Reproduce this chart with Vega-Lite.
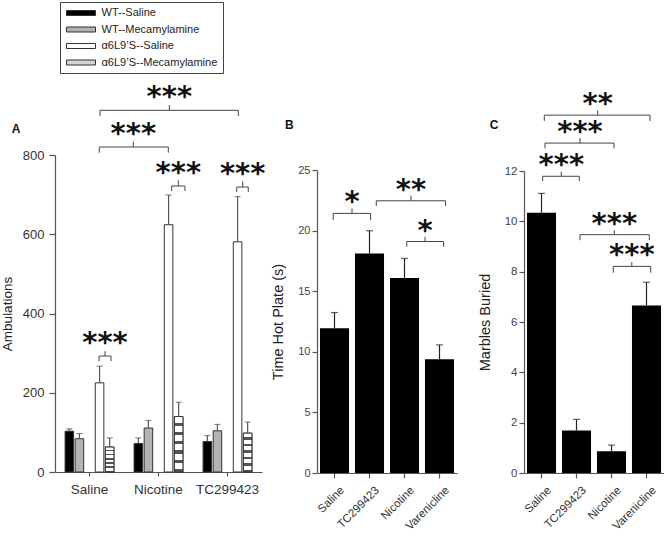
{
  "$schema": "https://vega.github.io/schema/vega-lite/v6.json",
  "padding": {"left": 0, "top": 1, "right": 0, "bottom": 0},
  "background": "white",
  "config": {
    "view": {"stroke": null},
    "font": "Liberation Sans",
    "axis": {"grid": false, "labelFont": "Liberation Sans", "titleFont": "Liberation Sans", "domainColor": "#555", "tickColor": "#555", "labelColor": "#333", "titleColor": "#222", "titleFontWeight": "normal", "domainWidth": 1.2, "tickWidth": 1.2}
  },
  "bounds": "flush",
  "spacing": 55,
  "resolve": {"scale": {"fill": "independent"}},
  "hconcat": [
    {
      "width": 207, "height": 317,
      "resolve": {"scale": {"x": "independent"}},
      "layer": [
        {
          "data": {"values": [
            {"treatment": "Saline", "group": "WT--Saline", "mean": 103, "upper": 109},
            {"treatment": "Saline", "group": "WT--Mecamylamine", "mean": 84, "upper": 97},
            {"treatment": "Saline", "group": "α6L9’S--Saline", "mean": 225, "upper": 267},
            {"treatment": "Saline", "group": "α6L9’S--Mecamylamine", "mean": 63, "upper": 86},
            {"treatment": "Nicotine", "group": "WT--Saline", "mean": 72, "upper": 86},
            {"treatment": "Nicotine", "group": "WT--Mecamylamine", "mean": 111, "upper": 130},
            {"treatment": "Nicotine", "group": "α6L9’S--Saline", "mean": 624, "upper": 699},
            {"treatment": "Nicotine", "group": "α6L9’S--Mecamylamine", "mean": 140, "upper": 176},
            {"treatment": "TC299423", "group": "WT--Saline", "mean": 77, "upper": 92},
            {"treatment": "TC299423", "group": "WT--Mecamylamine", "mean": 104, "upper": 120},
            {"treatment": "TC299423", "group": "α6L9’S--Saline", "mean": 581, "upper": 695},
            {"treatment": "TC299423", "group": "α6L9’S--Mecamylamine", "mean": 98, "upper": 126}
          ]},
          "encoding": {
            "x": {"field": "treatment", "type": "nominal", "sort": ["Saline", "Nicotine", "TC299423"], "scale": {"paddingInner": 0, "paddingOuter": 0}, "axis": {"title": null, "labelAngle": 0, "labelFontSize": 13.5, "tickSize": 4, "labelPadding": 6}},
            "xOffset": {"field": "group", "type": "nominal", "scale": {"domain": ["WT--Saline", "WT--Mecamylamine", "gap", "α6L9’S--Saline", "α6L9’S--Mecamylamine"], "paddingInner": 0.15, "paddingOuter": 1.68}},
            "y": {"field": "mean", "type": "quantitative", "title": "Ambulations", "scale": {"domain": [0, 800], "nice": false}, "axis": {"title": "Ambulations", "values": [0, 200, 400, 600, 800], "labelFontSize": 13, "titleFontSize": 13.5, "tickSize": 6, "labelPadding": 5, "titlePadding": 8}}
          },
          "layer": [
            {
              "mark": {"type": "bar", "stroke": "#333", "strokeWidth": 1},
              "encoding": {
                "fill": {"field": "group", "type": "nominal",
                  "scale": {"domain": ["WT--Saline", "WT--Mecamylamine", "α6L9’S--Saline", "α6L9’S--Mecamylamine"], "range": ["#000000", "#b3b3b3", "#ffffff", "#d4d4d4"]},
                  "legend": {"orient": "none", "legendX": 5, "legendY": -153, "title": null, "strokeColor": "#444", "fillColor": "#ffffff", "padding": 5.5,
                    "symbolType": "M-14.5,-2.5H14.5V2.5H-14.5Z", "symbolSize": 4, "symbolOffset": 10, "labelOffset": 15, "rowPadding": 4.5,
                    "labelFontSize": 11, "labelFont": "Liberation Sans", "labelColor": "#222", "symbolStrokeColor": "#333", "symbolStrokeWidth": 1,
                    "labelExpr": "datum.label + '     '",
                    "encode": {"symbols": {"update": {"stroke": {"value": "#333333"}, "strokeWidth": {"value": 1}}}}
                  }
                }
              }
            },
            {
              "transform": [{"filter": "datum.group === 'α6L9’S--Mecamylamine'"}],
              "mark": {"type": "bar", "stroke": "#333", "strokeWidth": 1,
                "fill": {"gradient": "linear", "x1": 0, "y1": 0, "x2": 0, "y2": 1, "stops": [
                  {"offset": 0, "color": "#ffffff"}, {"offset": 0.108, "color": "#ffffff"}, {"offset": 0.108, "color": "#555555"}, {"offset": 0.1667, "color": "#555555"},
                  {"offset": 0.1667, "color": "#ffffff"}, {"offset": 0.275, "color": "#ffffff"}, {"offset": 0.275, "color": "#555555"}, {"offset": 0.3333, "color": "#555555"},
                  {"offset": 0.3333, "color": "#ffffff"}, {"offset": 0.4417, "color": "#ffffff"}, {"offset": 0.4417, "color": "#555555"}, {"offset": 0.5, "color": "#555555"},
                  {"offset": 0.5, "color": "#ffffff"}, {"offset": 0.6083, "color": "#ffffff"}, {"offset": 0.6083, "color": "#555555"}, {"offset": 0.6667, "color": "#555555"},
                  {"offset": 0.6667, "color": "#ffffff"}, {"offset": 0.775, "color": "#ffffff"}, {"offset": 0.775, "color": "#555555"}, {"offset": 0.8333, "color": "#555555"},
                  {"offset": 0.8333, "color": "#ffffff"}, {"offset": 0.9417, "color": "#ffffff"}, {"offset": 0.9417, "color": "#555555"}, {"offset": 1, "color": "#555555"}]}}
            },
            {"mark": {"type": "rule", "color": "#555", "strokeWidth": 1.2}, "encoding": {"y2": {"field": "upper"}}},
            {"mark": {"type": "tick", "color": "#555", "size": 6, "thickness": 1.2}, "encoding": {"y": {"field": "upper", "type": "quantitative", "title": "Ambulations", "scale": {"domain": [0, 800], "nice": false}}}}
          ]
        },
        {
          "data": {"values": [
            {"x1": 0.652, "x2": 2.657, "xm": 1.657, "y": 912.8, "lo": 898.4, "hi": 926.2, "txt": "***"},
            {"x1": 0.642, "x2": 1.642, "xm": 1.135, "y": 820.2, "lo": 805.8, "hi": 833.6, "txt": "***"},
            {"x1": 0.638, "x2": 0.812, "xm": 0.725, "y": 292.7, "lo": 280, "hi": 305, "txt": "***"},
            {"x1": 1.691, "x2": 1.884, "xm": 1.787, "y": 721.8, "lo": 709.1, "hi": 736.2, "txt": "***"},
            {"x1": 2.633, "x2": 2.801, "xm": 2.72, "y": 719.2, "lo": 706.6, "hi": 733.7, "txt": "***"}
          ]},
          "layer": [
            {"mark": {"type": "rule", "color": "#444", "strokeWidth": 1},
             "encoding": {"x": {"field": "x1", "type": "quantitative", "scale": {"domain": [0, 3], "nice": false, "zero": false}, "axis": null}, "x2": {"field": "x2"},
               "y": {"field": "y", "type": "quantitative", "title": "Ambulations", "scale": {"domain": [0, 800], "nice": false}}}},
            {"mark": {"type": "rule", "color": "#444", "strokeWidth": 1},
             "encoding": {"x": {"field": "x1", "type": "quantitative", "scale": {"domain": [0, 3], "nice": false, "zero": false}, "axis": null},
               "y": {"field": "lo", "type": "quantitative", "title": "Ambulations", "scale": {"domain": [0, 800], "nice": false}}, "y2": {"field": "y"}}},
            {"mark": {"type": "rule", "color": "#444", "strokeWidth": 1},
             "encoding": {"x": {"field": "x2", "type": "quantitative", "scale": {"domain": [0, 3], "nice": false, "zero": false}, "axis": null},
               "y": {"field": "lo", "type": "quantitative", "title": "Ambulations", "scale": {"domain": [0, 800], "nice": false}}, "y2": {"field": "y"}}},
            {"mark": {"type": "rule", "color": "#444", "strokeWidth": 1},
             "encoding": {"x": {"field": "xm", "type": "quantitative", "scale": {"domain": [0, 3], "nice": false, "zero": false}, "axis": null},
               "y": {"field": "y", "type": "quantitative", "title": "Ambulations", "scale": {"domain": [0, 800], "nice": false}}, "y2": {"field": "hi"}}},
            {"mark": {"type": "text", "font": "DejaVu Sans", "fontWeight": "bold", "fontSize": 29, "baseline": "alphabetic", "dy": -4, "color": "#111"},
             "encoding": {"x": {"field": "xm", "type": "quantitative", "scale": {"domain": [0, 3], "nice": false, "zero": false}, "axis": null},
               "y": {"field": "y", "type": "quantitative", "title": "Ambulations", "scale": {"domain": [0, 800], "nice": false}}, "text": {"field": "txt", "type": "nominal"}}}
          ]
        },
        {
          "data": {"values": [{"xm": -0.565, "y": 855.5, "txt": "A"}]},
          "mark": {"type": "text", "font": "Liberation Sans", "fontWeight": "bold", "fontSize": 12, "baseline": "alphabetic", "color": "#111"},
          "encoding": {"x": {"field": "xm", "type": "quantitative", "scale": {"domain": [0, 3], "nice": false, "zero": false}, "axis": null},
            "y": {"field": "y", "type": "quantitative", "title": "Ambulations", "scale": {"domain": [0, 800], "nice": false}}, "text": {"field": "txt", "type": "nominal"}}
        }
      ]
    },
    {
      "bounds": "flush",
      "spacing": 67,
      "hconcat": [
        {
          "width": 140, "height": 318,
          "resolve": {"scale": {"x": "independent"}},
          "layer": [
            {
              "data": {"values": [
                {"treatment": "Saline", "mean": 11.95, "upper": 13.24},
                {"treatment": "TC299423", "mean": 18.11, "upper": 19.99},
                {"treatment": "Nicotine", "mean": 16.08, "upper": 17.7},
                {"treatment": "Varenicline", "mean": 9.39, "upper": 10.57}
              ]},
              "encoding": {
                "x": {"field": "treatment", "type": "nominal", "sort": ["Saline", "TC299423", "Nicotine", "Varenicline"], "scale": {"paddingInner": 0.17, "paddingOuter": 0.085}, "axis": {"title": null, "labelAngle": -45, "labelAlign": "right", "labelBaseline": "top", "labelFontSize": 11.5, "tickSize": 5, "labelPadding": 6, "labelOffset": 4}},
                "y": {"field": "mean", "type": "quantitative", "title": "Time Hot Plate (s)", "scale": {"domain": [0, 25], "range": [318, 15], "nice": false}, "axis": {"title": "Time Hot Plate (s)", "values": [0, 2.5, 5, 7.5, 10, 12.5, 15, 17.5, 20, 22.5, 25], "labelExpr": "datum.value % 5 === 0 ? datum.label : ''", "labelFontSize": 11, "labelColor": "#444", "titleFontSize": 14.5, "tickSize": 5, "labelPadding": 2, "titlePadding": 12.5}}
              },
              "layer": [
                {"mark": {"type": "bar", "color": "#000000"}},
                {"mark": {"type": "rule", "color": "#222", "strokeWidth": 1.2}, "encoding": {"y2": {"field": "upper"}}},
                {"mark": {"type": "tick", "color": "#222", "size": 7, "thickness": 1.2}, "encoding": {"y": {"field": "upper", "type": "quantitative", "title": "Time Hot Plate (s)", "scale": {"domain": [0, 25], "range": [318, 15], "nice": false}}}}
              ]
            },
            {
              "data": {"values": [
                {"x1": 0.463, "x2": 1.531, "xm": 1.0, "y": 21.42, "lo": 20.87, "hi": 21.83, "txt": "*"},
                {"x1": 1.694, "x2": 3.674, "xm": 2.686, "y": 22.46, "lo": 22.03, "hi": 22.88, "txt": "**"},
                {"x1": 2.566, "x2": 3.617, "xm": 3.086, "y": 19.1, "lo": 18.67, "hi": 19.49, "txt": "*"}
              ]},
              "layer": [
                {"mark": {"type": "rule", "color": "#444", "strokeWidth": 1},
                 "encoding": {"x": {"field": "x1", "type": "quantitative", "scale": {"domain": [0, 4], "nice": false, "zero": false}, "axis": null}, "x2": {"field": "x2"},
                   "y": {"field": "y", "type": "quantitative", "title": "Time Hot Plate (s)", "scale": {"domain": [0, 25], "range": [318, 15], "nice": false}}}},
                {"mark": {"type": "rule", "color": "#444", "strokeWidth": 1},
                 "encoding": {"x": {"field": "x1", "type": "quantitative", "scale": {"domain": [0, 4], "nice": false, "zero": false}, "axis": null},
                   "y": {"field": "lo", "type": "quantitative", "title": "Time Hot Plate (s)", "scale": {"domain": [0, 25], "range": [318, 15], "nice": false}}, "y2": {"field": "y"}}},
                {"mark": {"type": "rule", "color": "#444", "strokeWidth": 1},
                 "encoding": {"x": {"field": "x2", "type": "quantitative", "scale": {"domain": [0, 4], "nice": false, "zero": false}, "axis": null},
                   "y": {"field": "lo", "type": "quantitative", "title": "Time Hot Plate (s)", "scale": {"domain": [0, 25], "range": [318, 15], "nice": false}}, "y2": {"field": "y"}}},
                {"mark": {"type": "rule", "color": "#444", "strokeWidth": 1},
                 "encoding": {"x": {"field": "xm", "type": "quantitative", "scale": {"domain": [0, 4], "nice": false, "zero": false}, "axis": null},
                   "y": {"field": "y", "type": "quantitative", "title": "Time Hot Plate (s)", "scale": {"domain": [0, 25], "range": [318, 15], "nice": false}}, "y2": {"field": "hi"}}},
                {"mark": {"type": "text", "font": "DejaVu Sans", "fontWeight": "bold", "fontSize": 29, "baseline": "alphabetic", "dy": -2, "color": "#111"},
                 "encoding": {"x": {"field": "xm", "type": "quantitative", "scale": {"domain": [0, 4], "nice": false, "zero": false}, "axis": null},
                   "y": {"field": "y", "type": "quantitative", "title": "Time Hot Plate (s)", "scale": {"domain": [0, 25], "range": [318, 15], "nice": false}}, "text": {"field": "txt", "type": "nominal"}}}
              ]
            },
            {
              "data": {"values": [{"xm": -0.79, "y": 28.41, "txt": "B"}]},
              "mark": {"type": "text", "font": "Liberation Sans", "fontWeight": "bold", "fontSize": 12, "baseline": "alphabetic", "color": "#111"},
              "encoding": {"x": {"field": "xm", "type": "quantitative", "scale": {"domain": [0, 4], "nice": false, "zero": false}, "axis": null},
                "y": {"field": "y", "type": "quantitative", "title": "Time Hot Plate (s)", "scale": {"domain": [0, 25], "range": [318, 15], "nice": false}}, "text": {"field": "txt", "type": "nominal"}}
            }
          ]
        },
        {
          "width": 140, "height": 318,
          "resolve": {"scale": {"x": "independent"}},
          "layer": [
            {
              "data": {"values": [
                {"treatment": "Saline", "mean": 10.34, "upper": 11.11},
                {"treatment": "TC299423", "mean": 1.69, "upper": 2.13},
                {"treatment": "Nicotine", "mean": 0.86, "upper": 1.11},
                {"treatment": "Varenicline", "mean": 6.66, "upper": 7.58}
              ]},
              "encoding": {
                "x": {"field": "treatment", "type": "nominal", "sort": ["Saline", "TC299423", "Nicotine", "Varenicline"], "scale": {"paddingInner": 0.17, "paddingOuter": 0.085}, "axis": {"title": null, "labelAngle": -45, "labelAlign": "right", "labelBaseline": "top", "labelFontSize": 11.5, "tickSize": 5, "labelPadding": 6, "labelOffset": 4}},
                "y": {"field": "mean", "type": "quantitative", "title": "Marbles Buried", "scale": {"domain": [0, 12], "range": [318, 16], "nice": false}, "axis": {"title": "Marbles Buried", "values": [0, 1, 2, 3, 4, 5, 6, 7, 8, 9, 10, 11, 12], "labelExpr": "datum.value % 2 === 0 ? datum.label : ''", "labelFontSize": 11.5, "labelColor": "#444", "titleFontSize": 14.5, "tickSize": 5, "labelPadding": 2, "titlePadding": 11.5}}
              },
              "layer": [
                {"mark": {"type": "bar", "color": "#000000"}},
                {"mark": {"type": "rule", "color": "#222", "strokeWidth": 1.2}, "encoding": {"y2": {"field": "upper"}}},
                {"mark": {"type": "tick", "color": "#222", "size": 7, "thickness": 1.2}, "encoding": {"y": {"field": "upper", "type": "quantitative", "title": "Marbles Buried", "scale": {"domain": [0, 12], "range": [318, 16], "nice": false}}}}
              ]
            },
            {
              "data": {"values": [
                {"x1": 0.58, "x2": 3.6, "xm": 2.106, "y": 14.22, "lo": 13.99, "hi": 14.41, "txt": "**"},
                {"x1": 0.6, "x2": 2.571, "xm": 1.6, "y": 13.11, "lo": 12.9, "hi": 13.31, "txt": "***"},
                {"x1": 0.534, "x2": 1.58, "xm": 1.066, "y": 11.79, "lo": 11.6, "hi": 11.97, "txt": "***"},
                {"x1": 1.6, "x2": 3.58, "xm": 2.58, "y": 9.47, "lo": 9.25, "hi": 9.65, "txt": "***"},
                {"x1": 2.55, "x2": 3.62, "xm": 3.08, "y": 8.21, "lo": 7.96, "hi": 8.38, "txt": "***"}
              ]},
              "layer": [
                {"mark": {"type": "rule", "color": "#444", "strokeWidth": 1},
                 "encoding": {"x": {"field": "x1", "type": "quantitative", "scale": {"domain": [0, 4], "nice": false, "zero": false}, "axis": null}, "x2": {"field": "x2"},
                   "y": {"field": "y", "type": "quantitative", "title": "Marbles Buried", "scale": {"domain": [0, 12], "range": [318, 16], "nice": false}}}},
                {"mark": {"type": "rule", "color": "#444", "strokeWidth": 1},
                 "encoding": {"x": {"field": "x1", "type": "quantitative", "scale": {"domain": [0, 4], "nice": false, "zero": false}, "axis": null},
                   "y": {"field": "lo", "type": "quantitative", "title": "Marbles Buried", "scale": {"domain": [0, 12], "range": [318, 16], "nice": false}}, "y2": {"field": "y"}}},
                {"mark": {"type": "rule", "color": "#444", "strokeWidth": 1},
                 "encoding": {"x": {"field": "x2", "type": "quantitative", "scale": {"domain": [0, 4], "nice": false, "zero": false}, "axis": null},
                   "y": {"field": "lo", "type": "quantitative", "title": "Marbles Buried", "scale": {"domain": [0, 12], "range": [318, 16], "nice": false}}, "y2": {"field": "y"}}},
                {"mark": {"type": "rule", "color": "#444", "strokeWidth": 1},
                 "encoding": {"x": {"field": "xm", "type": "quantitative", "scale": {"domain": [0, 4], "nice": false, "zero": false}, "axis": null},
                   "y": {"field": "y", "type": "quantitative", "title": "Marbles Buried", "scale": {"domain": [0, 12], "range": [318, 16], "nice": false}}, "y2": {"field": "hi"}}},
                {"mark": {"type": "text", "font": "DejaVu Sans", "fontWeight": "bold", "fontSize": 29, "baseline": "alphabetic", "dy": -2, "color": "#111"},
                 "encoding": {"x": {"field": "xm", "type": "quantitative", "scale": {"domain": [0, 4], "nice": false, "zero": false}, "axis": null},
                   "y": {"field": "y", "type": "quantitative", "title": "Marbles Buried", "scale": {"domain": [0, 12], "range": [318, 16], "nice": false}}, "text": {"field": "txt", "type": "nominal"}}}
              ]
            },
            {
              "data": {"values": [{"xm": -0.857, "y": 13.67, "txt": "C"}]},
              "mark": {"type": "text", "font": "Liberation Sans", "fontWeight": "bold", "fontSize": 12, "baseline": "alphabetic", "color": "#111"},
              "encoding": {"x": {"field": "xm", "type": "quantitative", "scale": {"domain": [0, 4], "nice": false, "zero": false}, "axis": null},
                "y": {"field": "y", "type": "quantitative", "title": "Marbles Buried", "scale": {"domain": [0, 12], "range": [318, 16], "nice": false}}, "text": {"field": "txt", "type": "nominal"}}
            }
          ]
        }
      ]
    }
  ]
}
